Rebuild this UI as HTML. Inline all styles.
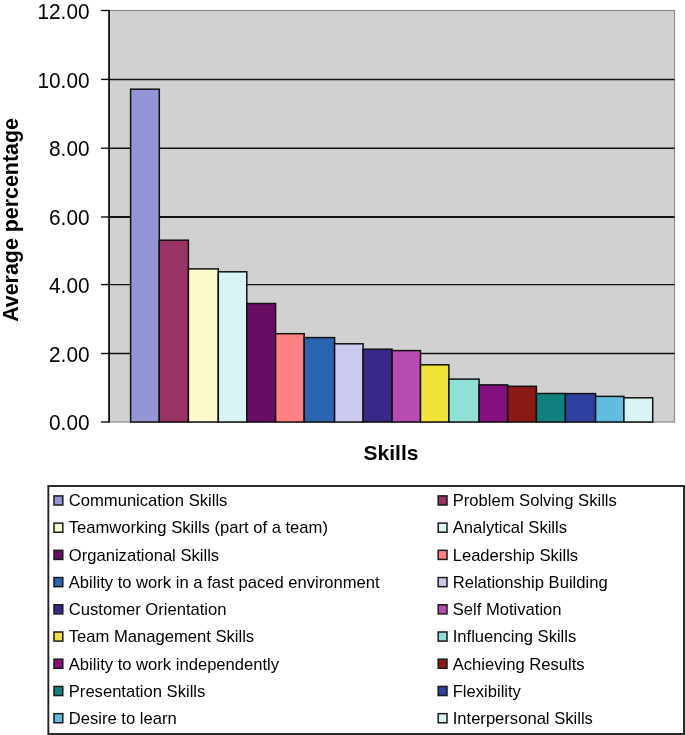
<!DOCTYPE html>
<html><head><meta charset="utf-8"><style>
html,body{margin:0;padding:0;background:#fff;width:685px;height:735px;overflow:hidden}
text{font-family:"Liberation Sans", sans-serif}
</style></head><body>
<svg width="685" height="735" viewBox="0 0 685 735" style="display:block;will-change:transform"><rect x="108.5" y="10.5" width="566.0" height="411.5" fill="#d1d1d1" stroke="#8c8c8c" stroke-width="1.2"/><line x1="108.5" y1="79.4" x2="674.5" y2="79.4" stroke="#111" stroke-width="1.45"/><line x1="108.5" y1="148.2" x2="674.5" y2="148.2" stroke="#111" stroke-width="1.45"/><line x1="108.5" y1="217.0" x2="674.5" y2="217.0" stroke="#111" stroke-width="1.8"/><line x1="108.5" y1="284.6" x2="674.5" y2="284.6" stroke="#111" stroke-width="1.45"/><line x1="108.5" y1="353.5" x2="674.5" y2="353.5" stroke="#111" stroke-width="1.45"/><rect x="130.6" y="89.2" width="28.70" height="332.80" fill="#9395d7" stroke="#111" stroke-width="1.5"/><rect x="159.3" y="240.2" width="29.10" height="181.80" fill="#993366" stroke="#111" stroke-width="1.5"/><rect x="188.4" y="268.9" width="29.90" height="153.10" fill="#fcfacc" stroke="#111" stroke-width="1.5"/><rect x="218.3" y="271.8" width="28.50" height="150.20" fill="#d8f4f4" stroke="#111" stroke-width="1.5"/><rect x="246.8" y="303.5" width="28.80" height="118.50" fill="#680c64" stroke="#111" stroke-width="1.5"/><rect x="275.6" y="333.7" width="28.60" height="88.30" fill="#fe8080" stroke="#111" stroke-width="1.5"/><rect x="304.2" y="337.6" width="30.40" height="84.40" fill="#2a63b0" stroke="#111" stroke-width="1.5"/><rect x="334.6" y="343.8" width="28.50" height="78.20" fill="#cbcbef" stroke="#111" stroke-width="1.5"/><rect x="363.1" y="349.2" width="29.00" height="72.80" fill="#3a2888" stroke="#111" stroke-width="1.5"/><rect x="392.1" y="350.6" width="28.40" height="71.40" fill="#b84ab4" stroke="#111" stroke-width="1.5"/><rect x="420.5" y="364.8" width="28.40" height="57.20" fill="#f0e438" stroke="#111" stroke-width="1.5"/><rect x="448.9" y="379.1" width="30.20" height="42.90" fill="#90e0d8" stroke="#111" stroke-width="1.5"/><rect x="479.1" y="384.9" width="28.60" height="37.10" fill="#84107e" stroke="#111" stroke-width="1.5"/><rect x="507.7" y="386.3" width="28.70" height="35.70" fill="#8a1a16" stroke="#111" stroke-width="1.5"/><rect x="536.4" y="393.5" width="29.00" height="28.50" fill="#138080" stroke="#111" stroke-width="1.5"/><rect x="565.4" y="393.6" width="30.20" height="28.40" fill="#3040a0" stroke="#111" stroke-width="1.5"/><rect x="595.6" y="396.4" width="28.30" height="25.60" fill="#60bde0" stroke="#111" stroke-width="1.5"/><rect x="623.9" y="397.8" width="28.80" height="24.20" fill="#d8f4f4" stroke="#111" stroke-width="1.5"/><line x1="109.2" y1="9.9" x2="109.2" y2="422.6" stroke="#111" stroke-width="1.6"/><line x1="101" y1="10.5" x2="109.2" y2="10.5" stroke="#111" stroke-width="1.4"/><line x1="101" y1="79.4" x2="109.2" y2="79.4" stroke="#111" stroke-width="1.4"/><line x1="101" y1="148.2" x2="109.2" y2="148.2" stroke="#111" stroke-width="1.4"/><line x1="101" y1="217.0" x2="109.2" y2="217.0" stroke="#111" stroke-width="1.4"/><line x1="101" y1="284.6" x2="109.2" y2="284.6" stroke="#111" stroke-width="1.4"/><line x1="101" y1="353.5" x2="109.2" y2="353.5" stroke="#111" stroke-width="1.4"/><line x1="101" y1="422.0" x2="109.2" y2="422.0" stroke="#111" stroke-width="1.4"/><text transform="translate(89.5,19) scale(0.912,1)" text-anchor="end" font-family='"Liberation Sans", sans-serif' font-size="22.8" fill="#000">12.00</text><text transform="translate(89.5,88) scale(0.912,1)" text-anchor="end" font-family='"Liberation Sans", sans-serif' font-size="22.8" fill="#000">10.00</text><text transform="translate(89.5,156) scale(0.912,1)" text-anchor="end" font-family='"Liberation Sans", sans-serif' font-size="22.8" fill="#000">8.00</text><text transform="translate(89.5,225) scale(0.912,1)" text-anchor="end" font-family='"Liberation Sans", sans-serif' font-size="22.8" fill="#000">6.00</text><text transform="translate(89.5,293) scale(0.912,1)" text-anchor="end" font-family='"Liberation Sans", sans-serif' font-size="22.8" fill="#000">4.00</text><text transform="translate(89.5,362) scale(0.912,1)" text-anchor="end" font-family='"Liberation Sans", sans-serif' font-size="22.8" fill="#000">2.00</text><text transform="translate(89.5,430) scale(0.912,1)" text-anchor="end" font-family='"Liberation Sans", sans-serif' font-size="22.8" fill="#000">0.00</text><text x="391" y="460.1" text-anchor="middle" font-family='"Liberation Sans", sans-serif' font-weight="bold" font-size="21" fill="#000">Skills</text><text transform="translate(18.3,220.0) rotate(-90)" text-anchor="middle" font-family='"Liberation Sans", sans-serif' font-weight="bold" font-size="21.4" fill="#000">Average percentage</text><rect x="48.35" y="486" width="635.65" height="248" fill="#fff" stroke="#222" stroke-width="1.9"/><rect x="54.0" y="495.90" width="8.8" height="9.1" fill="#9395d7" stroke="#1a1a1a" stroke-width="1.5"/><text x="68.8" y="506" font-family='"Liberation Sans", sans-serif' font-size="16.6" fill="#000">Communication Skills</text><rect x="438.2" y="495.90" width="8.8" height="9.1" fill="#993366" stroke="#1a1a1a" stroke-width="1.5"/><text x="452.7" y="506" font-family='"Liberation Sans", sans-serif' font-size="16.6" fill="#000">Problem Solving Skills</text><rect x="54.0" y="523.12" width="8.8" height="9.1" fill="#fcfacc" stroke="#1a1a1a" stroke-width="1.5"/><text x="68.8" y="533" font-family='"Liberation Sans", sans-serif' font-size="16.6" fill="#000">Teamworking Skills (part of a team)</text><rect x="438.2" y="523.12" width="8.8" height="9.1" fill="#d8f4f4" stroke="#1a1a1a" stroke-width="1.5"/><text x="452.7" y="533" font-family='"Liberation Sans", sans-serif' font-size="16.6" fill="#000">Analytical Skills</text><rect x="54.0" y="550.34" width="8.8" height="9.1" fill="#680c64" stroke="#1a1a1a" stroke-width="1.5"/><text x="68.8" y="561" font-family='"Liberation Sans", sans-serif' font-size="16.6" fill="#000">Organizational Skills</text><rect x="438.2" y="550.34" width="8.8" height="9.1" fill="#fe8080" stroke="#1a1a1a" stroke-width="1.5"/><text x="452.7" y="561" font-family='"Liberation Sans", sans-serif' font-size="16.6" fill="#000">Leadership Skills</text><rect x="54.0" y="577.56" width="8.8" height="9.1" fill="#2a63b0" stroke="#1a1a1a" stroke-width="1.5"/><text x="68.8" y="588" font-family='"Liberation Sans", sans-serif' font-size="16.6" fill="#000">Ability to work in a fast paced environment</text><rect x="438.2" y="577.56" width="8.8" height="9.1" fill="#cbcbef" stroke="#1a1a1a" stroke-width="1.5"/><text x="452.7" y="588" font-family='"Liberation Sans", sans-serif' font-size="16.6" fill="#000">Relationship Building</text><rect x="54.0" y="604.78" width="8.8" height="9.1" fill="#3a2888" stroke="#1a1a1a" stroke-width="1.5"/><text x="68.8" y="615" font-family='"Liberation Sans", sans-serif' font-size="16.6" fill="#000">Customer Orientation</text><rect x="438.2" y="604.78" width="8.8" height="9.1" fill="#b84ab4" stroke="#1a1a1a" stroke-width="1.5"/><text x="452.7" y="615" font-family='"Liberation Sans", sans-serif' font-size="16.6" fill="#000">Self Motivation</text><rect x="54.0" y="632.00" width="8.8" height="9.1" fill="#f0e438" stroke="#1a1a1a" stroke-width="1.5"/><text x="68.8" y="642" font-family='"Liberation Sans", sans-serif' font-size="16.6" fill="#000">Team Management Skills</text><rect x="438.2" y="632.00" width="8.8" height="9.1" fill="#90e0d8" stroke="#1a1a1a" stroke-width="1.5"/><text x="452.7" y="642" font-family='"Liberation Sans", sans-serif' font-size="16.6" fill="#000">Influencing Skills</text><rect x="54.0" y="659.22" width="8.8" height="9.1" fill="#84107e" stroke="#1a1a1a" stroke-width="1.5"/><text x="68.8" y="670" font-family='"Liberation Sans", sans-serif' font-size="16.6" fill="#000">Ability to work independently</text><rect x="438.2" y="659.22" width="8.8" height="9.1" fill="#8a1a16" stroke="#1a1a1a" stroke-width="1.5"/><text x="452.7" y="670" font-family='"Liberation Sans", sans-serif' font-size="16.6" fill="#000">Achieving Results</text><rect x="54.0" y="686.44" width="8.8" height="9.1" fill="#138080" stroke="#1a1a1a" stroke-width="1.5"/><text x="68.8" y="697" font-family='"Liberation Sans", sans-serif' font-size="16.6" fill="#000">Presentation Skills</text><rect x="438.2" y="686.44" width="8.8" height="9.1" fill="#3040a0" stroke="#1a1a1a" stroke-width="1.5"/><text x="452.7" y="697" font-family='"Liberation Sans", sans-serif' font-size="16.6" fill="#000">Flexibility</text><rect x="54.0" y="713.66" width="8.8" height="9.1" fill="#60bde0" stroke="#1a1a1a" stroke-width="1.5"/><text x="68.8" y="724" font-family='"Liberation Sans", sans-serif' font-size="16.6" fill="#000">Desire to learn</text><rect x="438.2" y="713.66" width="8.8" height="9.1" fill="#d8f4f4" stroke="#1a1a1a" stroke-width="1.5"/><text x="452.7" y="724" font-family='"Liberation Sans", sans-serif' font-size="16.6" fill="#000">Interpersonal Skills</text></svg>
</body></html>
